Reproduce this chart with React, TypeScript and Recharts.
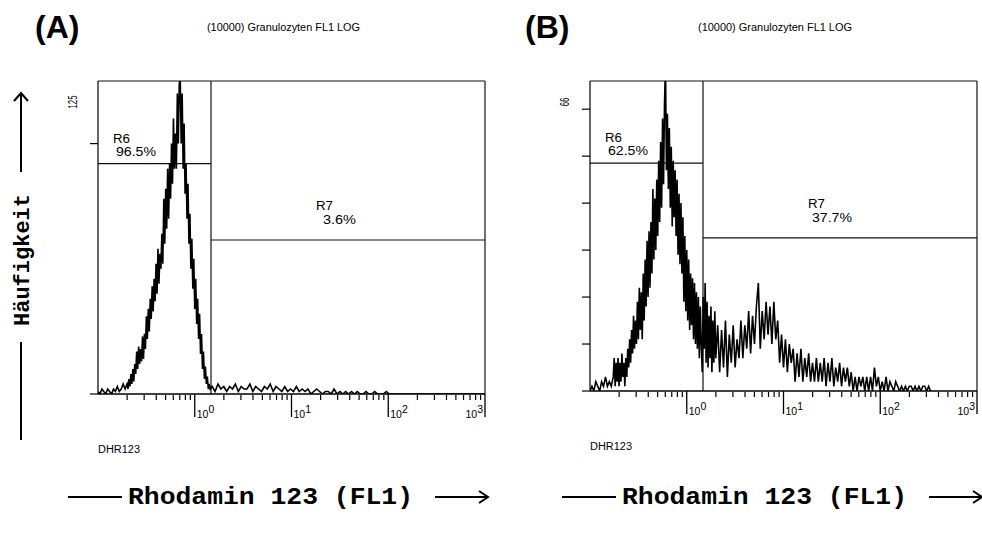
import React from 'react';
import { LineChart, Line, XAxis, YAxis, ReferenceLine } from 'recharts';

// ---------- Panel A data (x = log10 FL1, y = counts) ----------
const aLog = [
  -1.00, -0.98, -0.96, -0.94, -0.92, -0.90, -0.88, -0.86, -0.84, -0.82, -0.80, -0.78, -0.76, -0.74, -0.72,
  -0.70, -0.69, -0.68, -0.67, -0.66, -0.65, -0.64, -0.63, -0.62, -0.61,
  -0.60, -0.59, -0.58, -0.57, -0.56, -0.55, -0.54, -0.53, -0.52, -0.51,
  -0.50, -0.49, -0.48, -0.47, -0.46, -0.45, -0.44, -0.43, -0.42, -0.41,
  -0.40, -0.39, -0.38, -0.37, -0.36, -0.35, -0.34, -0.33, -0.32, -0.31,
  -0.30, -0.29, -0.28, -0.27, -0.26, -0.25, -0.24, -0.23, -0.22, -0.21,
  -0.20, -0.19, -0.18, -0.17, -0.16, -0.15, -0.14, -0.13, -0.12, -0.11,
  -0.10, -0.09, -0.08, -0.07, -0.06, -0.05, -0.04, -0.03, -0.02, -0.01,
  0.00, 0.01, 0.02, 0.03, 0.04, 0.05, 0.06, 0.07, 0.08, 0.09,
  0.10, 0.11, 0.12, 0.13, 0.14, 0.15, 0.16,
  0.18, 0.21, 0.24, 0.27, 0.30, 0.33, 0.36, 0.39, 0.42, 0.45,
  0.48, 0.51, 0.54, 0.57, 0.60, 0.63, 0.66, 0.69, 0.72, 0.75,
  0.78, 0.81, 0.84, 0.87, 0.90, 0.93, 0.96, 0.99, 1.02, 1.05,
  1.08, 1.11, 1.14, 1.17, 1.20, 1.23, 1.26, 1.29, 1.32, 1.35,
  1.38, 1.41, 1.44, 1.47, 1.50, 1.53, 1.56, 1.59, 1.62, 1.65,
  1.68, 1.71, 1.74, 1.77, 1.80, 1.83, 1.86, 1.89, 1.92, 1.95,
  1.98, 2.01, 2.10, 2.40, 2.70, 3.00,
];
const aCounts = [
  1, 0, 2, 1, 0, 2, 1, 0, 2, 1, 3, 1, 2, 4, 2,
  4, 2, 6, 3, 8, 4, 10, 5, 12, 8,
  17, 10, 19, 12, 18, 13, 23, 14, 24, 18,
  31, 22, 34, 25, 38, 30, 43, 33, 46, 37,
  52, 40, 58, 44, 56, 50, 64, 52, 78, 60,
  82, 66, 90, 70, 92, 78, 100, 84, 110, 90,
  104, 90, 120, 100, 124, 126, 100, 120, 90, 108,
  80, 92, 70, 84, 60, 72, 50, 62, 42, 54,
  34, 46, 28, 38, 22, 32, 16, 24, 10, 17,
  6, 11, 4, 7, 2, 4, 2,
  3, 1, 4, 2, 3, 1, 3, 2, 4, 1,
  3, 2, 2, 4, 1, 3, 2, 1, 3, 2,
  4, 1, 3, 2, 1, 3, 1, 2, 1, 3,
  1, 2, 1, 2, 0, 1, 2, 1, 0, 1,
  1, 0, 2, 0, 1, 0, 1, 0, 1, 0,
  1, 0, 0, 1, 0, 0, 1, 0, 0, 0,
  1, 0, 0, 0, 0, 0,
];

// ---------- Panel B data ----------
const bLog = [
  -1.00, -0.98, -0.96, -0.94, -0.92, -0.90, -0.88, -0.86, -0.84, -0.82, -0.80, -0.78, -0.76,
  -0.75, -0.74, -0.73, -0.72, -0.71, -0.70, -0.69, -0.68, -0.67, -0.66,
  -0.65, -0.64, -0.63, -0.62, -0.61, -0.60, -0.59, -0.58, -0.57, -0.56,
  -0.55, -0.54, -0.53, -0.52, -0.51, -0.50, -0.49, -0.48, -0.47, -0.46,
  -0.45, -0.44, -0.43, -0.42, -0.41, -0.40, -0.39, -0.38, -0.37, -0.36,
  -0.35, -0.34, -0.33, -0.32, -0.31, -0.30, -0.29, -0.28, -0.27, -0.26,
  -0.25, -0.24, -0.23, -0.22, -0.21, -0.20, -0.19, -0.18, -0.17, -0.16,
  -0.15, -0.14, -0.13, -0.12, -0.11, -0.10, -0.09, -0.08, -0.07, -0.06,
  -0.05, -0.04, -0.03, -0.02, -0.01, 0.00, 0.01, 0.02, 0.03, 0.04,
  0.05, 0.06, 0.07, 0.08, 0.09, 0.10, 0.11, 0.12, 0.13, 0.14,
  0.15, 0.16, 0.17, 0.18, 0.19, 0.20, 0.21, 0.22, 0.23, 0.24,
  0.25, 0.26, 0.27, 0.28, 0.29, 0.30,
  0.32, 0.34, 0.36, 0.38, 0.40, 0.42, 0.44, 0.46, 0.48, 0.50, 0.52, 0.54,
  0.56, 0.58, 0.60, 0.62, 0.64, 0.66, 0.68, 0.70, 0.72,
  0.74, 0.76, 0.78, 0.80, 0.82, 0.84, 0.86, 0.88, 0.90, 0.92,
  0.94, 0.96, 0.98, 1.00, 1.02, 1.04, 1.06, 1.08,
  1.10, 1.12, 1.14, 1.16, 1.18, 1.20, 1.22, 1.24, 1.26, 1.28, 1.30, 1.32, 1.34,
  1.36, 1.38, 1.40, 1.42, 1.44, 1.46, 1.48, 1.50, 1.52, 1.54, 1.56, 1.58, 1.60, 1.62, 1.64, 1.66, 1.68,
  1.70, 1.72, 1.74, 1.76, 1.78, 1.80, 1.82, 1.84, 1.86, 1.88, 1.90, 1.92, 1.94, 1.96, 1.98, 2.00,
  2.02, 2.04, 2.06, 2.08, 2.10, 2.12, 2.14, 2.16, 2.18, 2.20, 2.22,
  2.24, 2.26, 2.28, 2.30, 2.32, 2.34, 2.36, 2.38, 2.40, 2.42, 2.44, 2.46, 2.48, 2.50, 2.52,
];
const bCounts = [
  0, 1, 0, 2, 1, 0, 2, 1, 3, 1, 2, 1, 3,
  7, 1, 6, 2, 7, 1, 6, 2, 8, 3,
  6, 1, 7, 3, 9, 5, 11, 6, 13, 8,
  16, 9, 15, 10, 19, 11, 22, 13, 21, 11,
  25, 15, 28, 18, 32, 20, 34, 22, 36, 25,
  43, 28, 41, 30, 45, 33, 49, 36, 53, 39,
  58, 44, 61, 70, 47, 59, 43, 56, 39, 52,
  35, 49, 37, 47, 33, 45, 29, 42, 27, 40,
  25, 37, 19, 33, 17, 30, 15, 28, 13, 25,
  14, 24, 11, 23, 10, 21, 9, 20, 7, 18,
  10, 4, 20, 9, 23, 6, 19, 5, 16, 7,
  18, 4, 15, 6, 17, 7,
  14, 4, 13, 5, 15, 3, 12, 6, 14, 5, 11, 7,
  15, 7, 14, 9, 17, 8, 16, 10, 18,
  23, 9, 17, 11, 19, 12, 18, 10, 19, 11,
  15, 6, 12, 5, 11, 4, 10, 6,
  9, 2, 8, 3, 9, 2, 7, 3, 8, 2, 6, 2, 7,
  2, 6, 2, 7, 1, 6, 2, 7, 1, 5, 2, 6, 1, 5, 2, 5, 1,
  4, 0, 3, 0, 3, 1, 3, 0, 3, 0, 3, 0, 5, 1, 3, 0,
  2, 0, 3, 0, 2, 1, 0, 2, 1, 0, 1,
  0, 1, 0, 1, 1, 0, 1, 0, 1, 0, 1, 1, 0, 1, 0,
];

// ---------- axes / gates ----------
const minorFactors = [2, 3, 4, 5, 6, 7, 8, 9];
const xMin = -1;
const xMax = 3;
const aYMax = 125;
const bYMax = 66;
const aYTicks = [0, 100, 125];
const bYTicks = [0, 10, 20, 30, 40, 50, 60, 66];
const aGate = { split: 0.168, r6: 92, r7: 61.5, r6Pct: '96.5%', r7Pct: '3.6%' };
const bGate = { split: 0.168, r6: 48.5, r7: 32.6, r6Pct: '62.5%', r7Pct: '37.7%' };
const title = '(10000) Granulozyten FL1 LOG';
const param = 'DHR123';
const xTitle = 'Rhodamin 123 (FL1)';
const yTitle = 'Häufigkeit';

const xTicks: number[] = [];
for (let d = -1; d < 3; d++) {
  minorFactors.forEach((k) => xTicks.push(d + Math.log10(k)));
  xTicks.push(d + 1);
}

const SANS = 'Liberation Sans, Arial, sans-serif';
const MONO = 'Liberation Mono, Courier New, monospace';

const XTick = (props: any) => {
  const { x, y, payload } = props;
  const v = payload.value;
  const major = Math.abs(v - Math.round(v)) < 1e-6;
  if (major) {
    const last = Math.round(v) === 3;
    return (
      <g>
        <line x1={x} x2={x} y1={y} y2={y + 23} stroke="#000" strokeWidth={1.3} />
        <text
          x={last ? x - 2 : x + 2}
          y={y + 24}
          textAnchor={last ? 'end' : 'start'}
          fontSize={10.5}
          fontFamily={SANS}
          fill="#000"
        >
          10<tspan dy={-5}>{Math.round(v)}</tspan>
        </text>
      </g>
    );
  }
  return <line x1={x} x2={x} y1={y + 1} y2={y + 6} stroke="#000" strokeWidth={1.2} />;
};

const makeYTick = (top: number) => (props: any) => {
  const { x, y, payload } = props;
  if (payload.value === top) {
    const s = String(top);
    return (
      <text
        transform={`translate(${x - 21},${y + 21}) rotate(-90)`}
        textAnchor="middle"
        fontSize={12}
        fontFamily={SANS}
        fill="#000"
        textLength={s.length * 4.3}
        lengthAdjust="spacingAndGlyphs"
      >
        {s}
      </text>
    );
  }
  return <line x1={x - 8} x2={x} y1={y} y2={y} stroke="#000" strokeWidth={1.2} />;
};

type PanelProps = {
  xs: number[];
  ys: number[];
  yMax: number;
  yTicks: number[];
  gate: { split: number; r6: number; r7: number };
  margin: { top: number; right: number; bottom: number; left: number };
};

const Panel = ({ xs, ys, yMax, yTicks, gate, margin }: PanelProps) => {
  const data = xs.map((x, i) => ({ x, c: ys[i] }));
  return (
    <LineChart width={491} height={538} data={data} margin={margin}>
      <XAxis
        dataKey="x"
        type="number"
        domain={[xMin, xMax]}
        ticks={xTicks}
        interval={0}
        tickSize={0}
        tickMargin={0}
        tickLine={false}
        tick={<XTick />}
        axisLine={{ stroke: '#000', strokeWidth: 1.5 }}
        height={40}
        allowDataOverflow
      />
      <YAxis
        type="number"
        domain={[0, yMax]}
        ticks={yTicks}
        interval={0}
        tickSize={0}
        tickMargin={0}
        tickLine={false}
        tick={makeYTick(yMax)}
        axisLine={{ stroke: '#000', strokeWidth: 1.2 }}
        width={30}
        allowDataOverflow
      />
      <ReferenceLine y={yMax} stroke="#111" strokeWidth={1.2} />
      <ReferenceLine x={xMax} stroke="#111" strokeWidth={1.2} />
      <ReferenceLine x={gate.split} stroke="#111" strokeWidth={1.2} />
      <ReferenceLine
        segment={[
          { x: xMin, y: gate.r6 },
          { x: gate.split, y: gate.r6 },
        ]}
        stroke="#111"
        strokeWidth={1.2}
      />
      <ReferenceLine
        segment={[
          { x: gate.split, y: gate.r7 },
          { x: xMax, y: gate.r7 },
        ]}
        stroke="#111"
        strokeWidth={1.2}
      />
      <Line
        type="linear"
        dataKey="c"
        stroke="#000"
        strokeWidth={1.6}
        dot={false}
        isAnimationActive={false}
      />
    </LineChart>
  );
};

const Overlay = () => (
  <svg
    width={982}
    height={538}
    style={{ position: 'absolute', left: 0, top: 0, pointerEvents: 'none' }}
  >
    {/* panel letters */}
    <text x={35} y={38} fontSize={32} fontWeight="bold" fontFamily={SANS}>(A)</text>
    <text x={525} y={38} fontSize={32} fontWeight="bold" fontFamily={SANS}>(B)</text>
    {/* titles */}
    <text x={207} y={31} fontSize={10} fontFamily={SANS} textLength={153} lengthAdjust="spacingAndGlyphs">{title}</text>
    <text x={698} y={31} fontSize={10} fontFamily={SANS} textLength={154} lengthAdjust="spacingAndGlyphs">{title}</text>
    {/* gate labels A */}
    <text x={113} y={143} fontSize={12.5} fontFamily={SANS} textLength={17} lengthAdjust="spacingAndGlyphs">R6</text>
    <text x={116} y={156} fontSize={12.5} fontFamily={SANS} textLength={40} lengthAdjust="spacingAndGlyphs">{aGate.r6Pct}</text>
    <text x={316} y={210} fontSize={12.5} fontFamily={SANS} textLength={17} lengthAdjust="spacingAndGlyphs">R7</text>
    <text x={323} y={224} fontSize={12.5} fontFamily={SANS} textLength={33} lengthAdjust="spacingAndGlyphs">{aGate.r7Pct}</text>
    {/* gate labels B */}
    <text x={605} y={142} fontSize={12.5} fontFamily={SANS} textLength={17} lengthAdjust="spacingAndGlyphs">R6</text>
    <text x={608} y={155} fontSize={12.5} fontFamily={SANS} textLength={40} lengthAdjust="spacingAndGlyphs">{bGate.r6Pct}</text>
    <text x={808} y={208} fontSize={12.5} fontFamily={SANS} textLength={17} lengthAdjust="spacingAndGlyphs">R7</text>
    <text x={812} y={222} fontSize={12.5} fontFamily={SANS} textLength={40} lengthAdjust="spacingAndGlyphs">{bGate.r7Pct}</text>
    {/* parameter names */}
    <text x={98} y={453} fontSize={10} fontFamily={SANS} textLength={42} lengthAdjust="spacingAndGlyphs">{param}</text>
    <text x={590} y={450} fontSize={10} fontFamily={SANS} textLength={42} lengthAdjust="spacingAndGlyphs">{param}</text>
    {/* y title with arrow */}
    <text transform="translate(29,260) rotate(-90)" textAnchor="middle" fontSize={22} fontWeight="bold" fontFamily={MONO}>{yTitle}</text>
    <line x1={21} x2={21} y1={440} y2={342} stroke="#000" strokeWidth={2} />
    <line x1={21} x2={21} y1={172} y2={93} stroke="#000" strokeWidth={2} />
    <polyline points="14,101 21,93 28,101" fill="none" stroke="#000" strokeWidth={2} />
    {/* x titles with arrows */}
    {[0, 494].map((dx) => (
      <g key={dx} transform={`translate(${dx},0)`}>
        <line x1={68} x2={122} y1={497} y2={497} stroke="#000" strokeWidth={2} />
        <text x={128} y={504} fontSize={23} fontWeight="bold" fontFamily={MONO} textLength={285} lengthAdjust="spacingAndGlyphs">{xTitle}</text>
        <line x1={435} x2={488} y1={497} y2={497} stroke="#000" strokeWidth={2} />
        <polyline points="479,491 488,497 479,503" fill="none" stroke="#000" strokeWidth={2} />
      </g>
    ))}
  </svg>
);

export default function App() {
  return (
    <div style={{ position: 'absolute', left: 0, top: 0, width: 982, height: 538, background: '#fff' }}>
      <div style={{ position: 'absolute', left: 0, top: 0 }}>
        <Panel
          xs={aLog}
          ys={aCounts}
          yMax={aYMax}
          yTicks={aYTicks}
          gate={aGate}
          margin={{ top: 81, right: 6, bottom: 104, left: 68 }}
        />
      </div>
      <div style={{ position: 'absolute', left: 491, top: 0 }}>
        <Panel
          xs={bLog}
          ys={bCounts}
          yMax={bYMax}
          yTicks={bYTicks}
          gate={bGate}
          margin={{ top: 81, right: 5, bottom: 107, left: 69 }}
        />
      </div>
      <Overlay />
    </div>
  );
}
